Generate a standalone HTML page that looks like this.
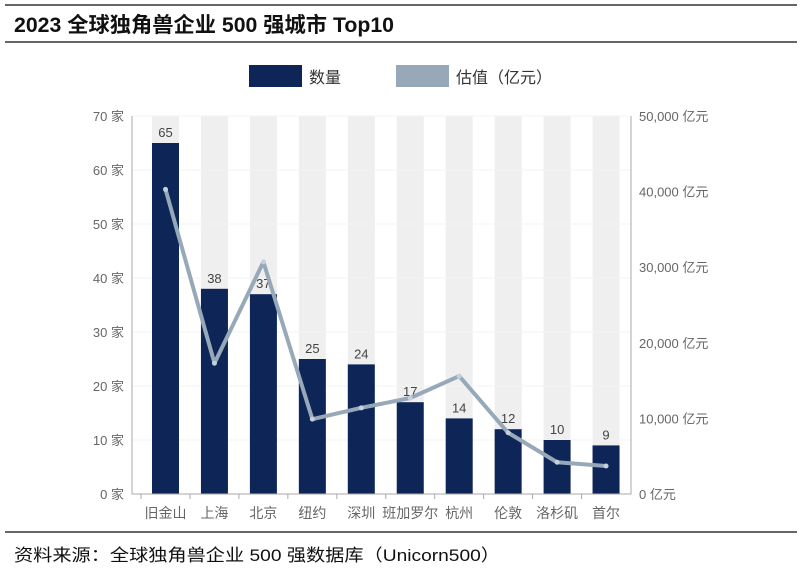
<!DOCTYPE html>
<html><head><meta charset="utf-8"><style>
body{margin:0;width:800px;height:577px;background:#fff;overflow:hidden;font-family:"Liberation Sans","Noto Sans CJK SC",sans-serif;}
</style></head><body>
<svg width="800" height="577" xmlns="http://www.w3.org/2000/svg">
<line x1="5" y1="5" x2="797" y2="5" stroke="#666" stroke-width="2"/>
<text x="14" y="32" font-size="21" font-weight="bold" fill="#111" textLength="380" lengthAdjust="spacingAndGlyphs">2023 全球独角兽企业 500 强城市 Top10</text>
<line x1="5" y1="42" x2="797" y2="42" stroke="#666" stroke-width="2"/>
<g>
<rect x="249" y="65" width="53" height="22" fill="#0d2657"/>
<text x="309" y="83" font-size="16" fill="#333">数量</text>
<rect x="396" y="65" width="53" height="22" fill="#97a9b9"/>
<text x="456" y="83" font-size="16" fill="#333">估值（亿元）</text>
</g>
<g id="plot"></g>
<line x1="5" y1="532" x2="797" y2="532" stroke="#666" stroke-width="2"/>
<text x="14" y="561" font-size="17" fill="#111" textLength="486" lengthAdjust="spacingAndGlyphs">资料来源：全球独角兽企业 500 强数据库（Unicorn500）</text>
</svg>
<script>
const categories=["旧金山","上海","北京","纽约","深圳","班加罗尔","杭州","伦敦","洛杉矶","首尔"];
const counts=[65,38,37,25,24,17,14,12,10,9];
const valuations=[40300,17300,30700,9900,11400,12700,15600,8100,4200,3700];
const leftTicks=[0,10,20,30,40,50,60,70];
const rightTicks=[0,10000,20000,30000,40000,50000];
const NS="http://www.w3.org/2000/svg";
const g=document.getElementById("plot");
const X0=132,X1=631,Y0=494,YT=116;
const yL=v=>Y0-(v/70)*(Y0-YT);
const yR=v=>Y0-(v/50000)*(Y0-YT);
const xC=i=>165.5+i*48.95;
const BW=27;
function mk(t,a){const e=document.createElementNS(NS,t);for(const k in a)e.setAttribute(k,a[k]);g.appendChild(e);return e;}
categories.forEach((c,i)=>{
 const s=mk("rect",{x:xC(i)-BW/2,y:YT,width:BW,height:Y0-YT,fill:"#efefef"});
 
 
});
leftTicks.forEach(v=>{
 const l=mk("line",{x1:X0,x2:X1,y1:yL(v),y2:yL(v),stroke:"#f3f3f3","stroke-width":1});
 
 
 const t=mk("text",{x:X0-8,y:yL(v)+5,"font-size":13,fill:"#666","text-anchor":"end"});
 t.textContent=v+" 家";
 
 
});
rightTicks.forEach(v=>{
 const t=mk("text",{x:X1+8,y:yR(v)+5,"font-size":13,fill:"#666"});
 t.textContent=v.toLocaleString("en-US")+" 亿元";
 
 
});
counts.forEach((v,i)=>{
 const r=mk("rect",{x:xC(i)-BW/2,y:yL(v),width:BW,height:Y0-yL(v),fill:"#0d2657"});
 
 
 const t=mk("text",{x:xC(i),y:yL(v)-6,"font-size":13,fill:"#444","text-anchor":"middle"});
 t.textContent=v;
 
 
});
const ax=mk("path",{d:`M${X0} ${YT}V${Y0}H${X1}V${YT}`,stroke:"#aaa",fill:"none","stroke-width":1});


categories.forEach((c,i)=>{
 const tk=mk("line",{x1:xC(i)-24.5,x2:xC(i)-24.5,y1:Y0,y2:Y0+5,stroke:"#aaa"});
 
 
 const t=mk("text",{x:xC(i),y:Y0+24,"font-size":14,fill:"#666","text-anchor":"middle"});
 t.textContent=c;
 
 
});
const pl=mk("polyline",{points:valuations.map((v,i)=>xC(i)+","+yR(v)).join(" "),fill:"none",stroke:"#97a9b9","stroke-width":4,"stroke-linejoin":"round"});


valuations.forEach((v,i)=>{
 const c=mk("circle",{cx:xC(i),cy:yR(v),r:2.5,fill:"#c5d0da"});
 
 
});
</script>
</body></html>
